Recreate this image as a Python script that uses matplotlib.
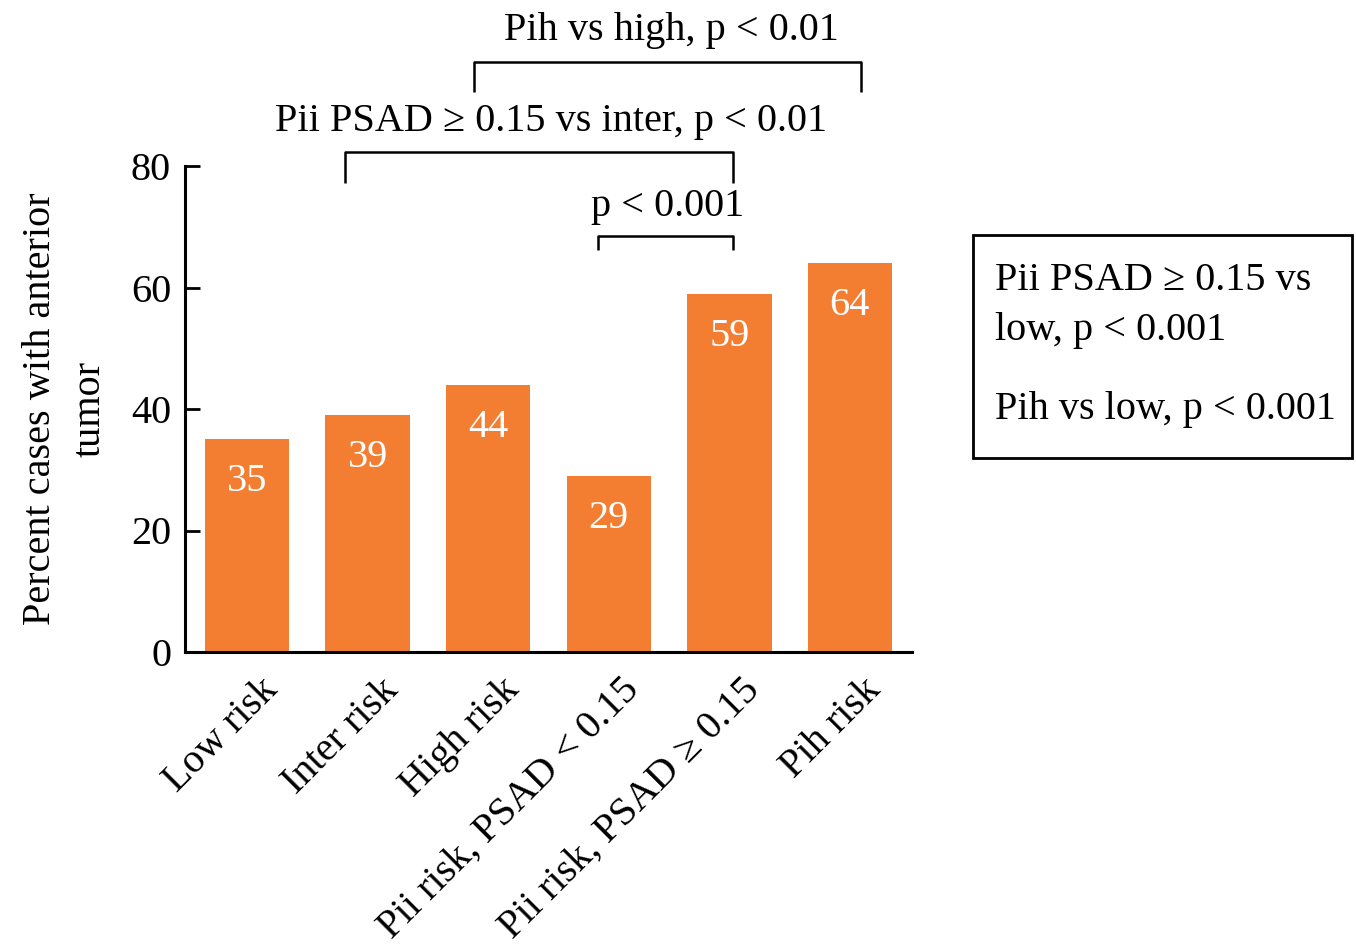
import matplotlib.pyplot as plt
from matplotlib.patches import Rectangle
from matplotlib.transforms import ScaledTranslation

# data
categories = ['Low risk', 'Inter risk', 'High risk', 'Pii risk, PSAD < 0.15',
              'Pii risk, PSAD ≥ 0.15', 'Pih risk']
values = [35, 39, 44, 29, 59, 64]
yticks = [0, 20, 40, 60, 80]

plt.rcParams['font.family'] = ['Liberation Serif', 'DejaVu Serif']
FS = 29

fig = plt.figure(figsize=(13.56, 9.48), dpi=100)
ax = fig.add_axes([185 / 1356, 1 - 652 / 948, 727 / 1356, 486 / 948])

x = list(range(len(categories)))
ax.bar(x, values, width=0.70, color='#F37E31')

for xi, v in zip(x, values):
    ax.text(xi, v - 7, str(v), ha='center', va='center', color='white', fontsize=FS)

ax.set_xlim(-0.515, 5.515)
ax.set_ylim(0, 80)
ax.set_yticks(yticks)
ax.tick_params(axis='y', direction='in', length=11, width=2, labelsize=FS, pad=10)
ax.tick_params(axis='x', length=0, labelsize=FS, pad=14)
ax.set_xticks(x)
ax.set_xticklabels(categories, rotation=45, ha='right', rotation_mode='anchor')
shift = ScaledTranslation(0.12, 0, fig.dpi_scale_trans)
for lbl in ax.get_xticklabels():
    lbl.set_transform(lbl.get_transform() + shift)

for s in ['top', 'right']:
    ax.spines[s].set_visible(False)
for s in ['left', 'bottom']:
    ax.spines[s].set_linewidth(2.2)

ax.set_ylabel('Percent cases with anterior\ntumor', fontsize=FS, labelpad=16,
              linespacing=1.45)


# significance brackets
def bracket(x1, x2, top, leg, label, tx, ty):
    ax.plot([x1, x1, x2, x2], [leg, top, top, leg], color='black', lw=1.8,
            clip_on=False, solid_capstyle='butt')
    ax.text(tx, ty, label, ha='center', va='center', fontsize=FS, clip_on=False)


bracket(2.91, 4.03, 68.5, 66.2, 'p < 0.001', 3.49, 73.3)
bracket(0.81, 4.03, 82.3, 77.2, 'Pii PSAD ≥ 0.15 vs inter, p < 0.01', 2.52, 87.4)
bracket(1.88, 5.09, 97.1, 92.2, 'Pih vs high, p < 0.01', 3.52, 102.3)

# side box
fig.patches.append(Rectangle((973 / 1356, 1 - 458 / 948), 379 / 1356, 223 / 948,
                             transform=fig.transFigure, fill=False,
                             edgecolor='black', lw=2))
fig.text(995 / 1356, 1 - 280 / 948, 'Pii PSAD ≥ 0.15 vs', ha='left', va='center', fontsize=FS)
fig.text(995 / 1356, 1 - 330 / 948, 'low, p < 0.001', ha='left', va='center', fontsize=FS)
fig.text(995 / 1356, 1 - 410 / 948, 'Pih vs low, p < 0.001', ha='left', va='center', fontsize=FS)

fig.savefig('out.png', dpi=100)
